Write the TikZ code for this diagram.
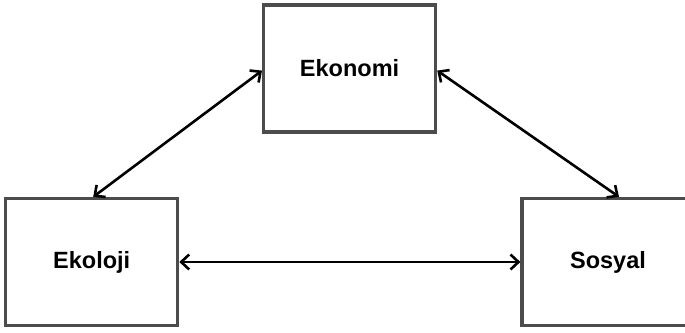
\documentclass[tikz,border=0pt]{standalone}
\usepackage{fontspec}
\setmainfont{Liberation Sans}
\usetikzlibrary{arrows.meta}
\begin{document}
\begin{tikzpicture}[x=1pt,y=1pt,
  pillar/.style={draw=black!70, line width=3.2pt, fill=white,
    minimum width=172pt, minimum height=127pt, inner sep=0pt,
    font=\fontsize{23.5}{28}\selectfont\bfseries},
  barbtip/.tip={Straight Barb[length=8pt,width=15pt,line width=2.6pt]},
  link/.style={line width=2.6pt, draw=black, barbtip-barbtip}]
  \clip (0,0) rectangle (685,332);
  \fill[white] (0,0) rectangle (685,332);

  % the three pillars
  \node[pillar] (ekon) at (349.6,263.4) {Ekonomi};
  \node[pillar] (ekol) at (91.7,70) {Ekoloji};
  \node[pillar] (sos)  at (608,70) {Sosyal};

  % mutual relations
  \draw[link] ([yshift=-2pt]ekon.west) -- ([xshift=1.5pt]ekol.north);
  \draw[link] ([yshift=-2pt]ekon.east) -- ([xshift=11pt]sos.north);
  \draw[link] (ekol.east) -- (sos.west);
\end{tikzpicture}
\end{document}
